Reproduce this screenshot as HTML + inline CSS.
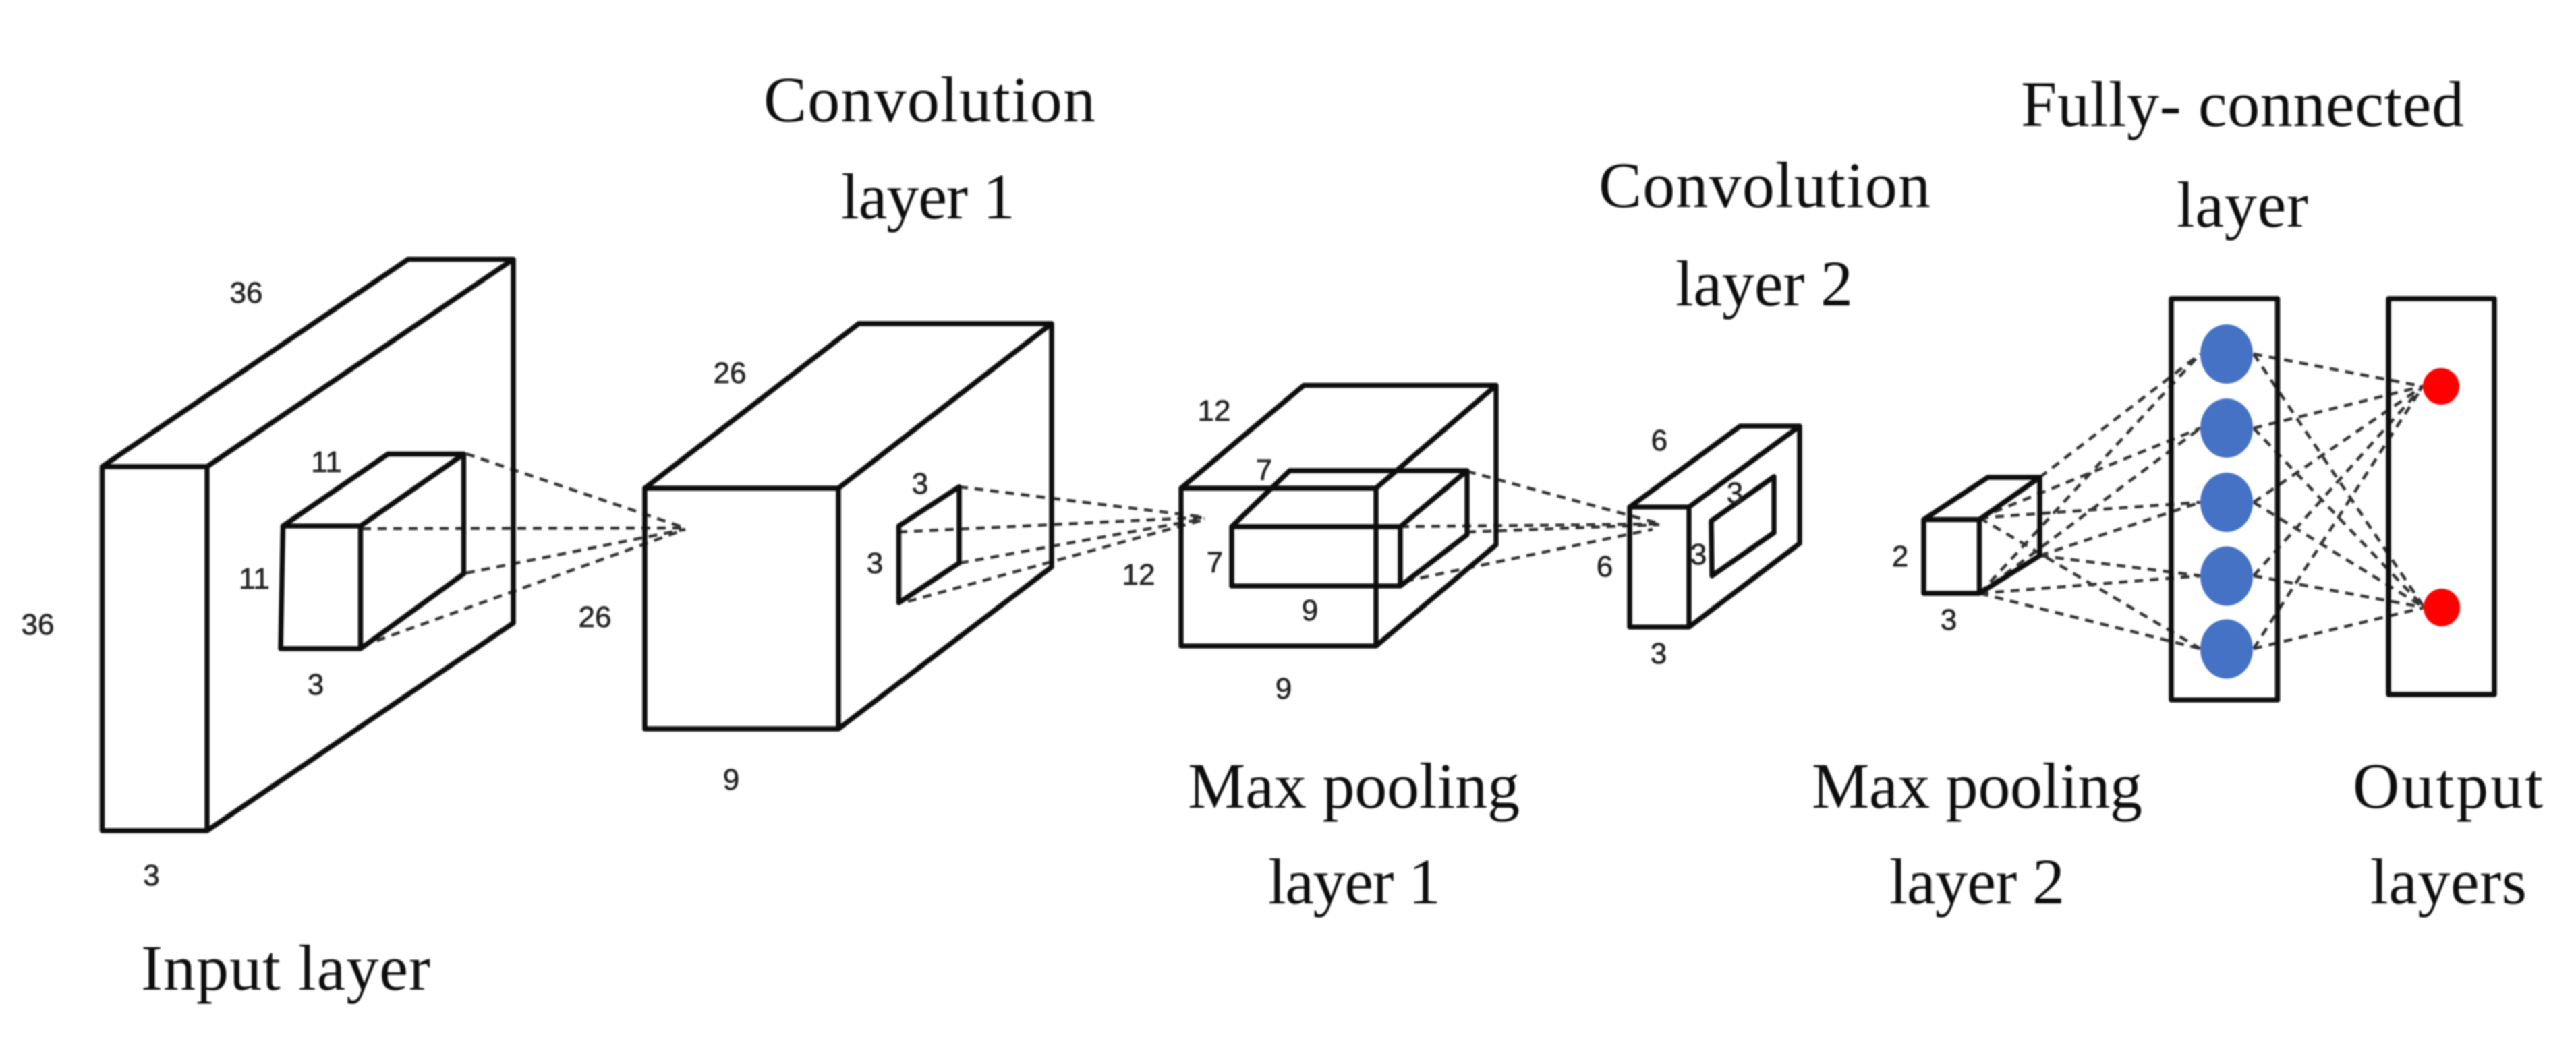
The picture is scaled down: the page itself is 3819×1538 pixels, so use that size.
<!DOCTYPE html>
<html><head><meta charset="utf-8"><style>
html,body{margin:0;padding:0;background:#fff;width:3819px;height:1538px;overflow:hidden}
svg{display:block}
.s{fill:none;stroke:#111;stroke-width:7.5;stroke-linejoin:round;stroke-linecap:round}
.d{fill:none;stroke:#333;stroke-width:4.5;stroke-dasharray:13 10}
.n{font-family:"Liberation Sans",sans-serif;font-size:44px;fill:#222;stroke:#222;stroke-width:.7;text-anchor:middle}
.t{font-family:"Liberation Serif",serif;font-size:96px;fill:#111}
</style></head><body>
<svg width="3819" height="1538" viewBox="0 0 3819 1538" xmlns="http://www.w3.org/2000/svg">
<defs><filter id="b" x="0" y="0" width="100%" height="100%" filterUnits="userSpaceOnUse"><feGaussianBlur stdDeviation="1"/></filter></defs>
<rect width="3819" height="1538" fill="#fff"/>
<g filter="url(#b)">
<g class="d">
<path d="M691 673L1016 783M537 784L1016 783M691 850L1016 785M537 958L1016 785"/>
<path d="M1422 722L1786 767M1332 789L1786 767M1423 835L1786 769M1346 892L1780 772"/>
<path d="M2175 699L2462 777M2076 781L2462 777M2175 789L2460 778M2083 862L2450 785"/>
<path d="M3024 708L3262 525M2935 880L3262 525M2935 768L3262 635M2935 880L3262 635M2935 768L3262 745M3024 824L3262 745M3024 824L3262 854M2935 880L3262 854M2935 768L3262 962M2935 880L3262 962"/>
<path d="M3341 525L3592 573M3341 635L3592 573M3341 745L3592 573M3341 854L3592 573M3341 962L3592 573"/>
<path d="M3341 525L3594 901M3341 635L3594 901M3341 745L3594 901M3341 854L3594 901M3341 962L3594 901"/>
</g>
<g class="s">
<path d="M151.500 692H307V1232H151.500ZM151.500 692L605 384.500H761L307 692M761 384.500V924L307 1232"/>
<path d="M419.500 780H534.500V962H416ZM419.500 780L575 673.500H687.500L534.500 780M687.500 673.500V851L534.500 962"/>
<path d="M956 724H1243V1081H956ZM956 724L1273 480H1559L1243 724M1559 480V841L1243 1081"/>
<path d="M1332.500 780L1422 722V835L1332.500 894Z"/>
<path d="M1751 724H2040V958H1751ZM1751 724L1933 571.500H2218L2040 724M2218 571.500V808L2040 958"/>
<path d="M1826 781H2076V869H1826ZM1826 781L1912 698H2175L2076 781M2175 698V793L2076 869"/>
<path d="M2416 752H2504V930H2416ZM2416 752L2580 632H2668L2504 752M2668 632V806L2504 930"/>
<path d="M2537 772.500L2630 707V790L2538 854Z"/>
<path d="M2852 770.500H2934.500V880H2852ZM2852 770.500L2947 708H3024L2934.500 770.500M3024 708V824L2934.500 880"/>
<rect x="3219" y="443" width="157.500" height="595"/>
<rect x="3541" y="443" width="157" height="587"/>
</g>
<g fill="#4472c4">
<ellipse cx="3301" cy="525" rx="39" ry="44"/>
<ellipse cx="3301" cy="635" rx="39" ry="44"/>
<ellipse cx="3301" cy="745" rx="39" ry="44"/>
<ellipse cx="3301" cy="854.500" rx="39" ry="44"/>
<ellipse cx="3301" cy="962.500" rx="39" ry="44"/>
</g>
<g fill="#ff0000">
<ellipse cx="3619" cy="573" rx="27" ry="27"/>
<ellipse cx="3620" cy="901" rx="27" ry="28"/>
</g>
<g class="n">
<text x="365" y="449">36</text><text x="56" y="941">36</text>
<text x="484" y="700">11</text><text x="377" y="873">11</text>
<text x="468" y="1030">3</text><text x="224.500" y="1313">3</text>
<text x="882" y="930">26</text><text x="1082" y="568">26</text>
<text x="1084" y="1171">9</text><text x="1364" y="732">3</text>
<text x="1297" y="850">3</text><text x="1688" y="867">12</text>
<text x="1800" y="624">12</text><text x="1874" y="712">7</text>
<text x="1801" y="849">7</text><text x="1942" y="920">9</text>
<text x="1903" y="1036">9</text><text x="2460" y="668">6</text>
<text x="2379" y="855">6</text><text x="2459" y="984">3</text>
<text x="2572" y="746">3</text><text x="2518" y="837">3</text>
<text x="2817" y="840">2</text><text x="2889" y="934">3</text>
</g>
<g class="t" lengthAdjust="spacing">
<text x="209" y="1468" textLength="429">Input layer</text>
<text x="1132" y="180" textLength="492">Convolution</text>
<text x="1247" y="324" textLength="258">layer 1</text>
<text x="2370" y="307" textLength="492">Convolution</text>
<text x="2484" y="453" textLength="263">layer 2</text>
<text x="2996" y="187" textLength="657">Fully- connected</text>
<text x="3227" y="336" textLength="195">layer</text>
<text x="1761" y="1198" textLength="492">Max pooling</text>
<text x="1880" y="1340" textLength="256">layer 1</text>
<text x="2686" y="1198" textLength="490">Max pooling</text>
<text x="2801" y="1340" textLength="260">layer 2</text>
<text x="3488" y="1198" textLength="282">Output</text>
<text x="3514" y="1340" textLength="232">layers</text>
</g>
</g>
</svg>
</body></html>
